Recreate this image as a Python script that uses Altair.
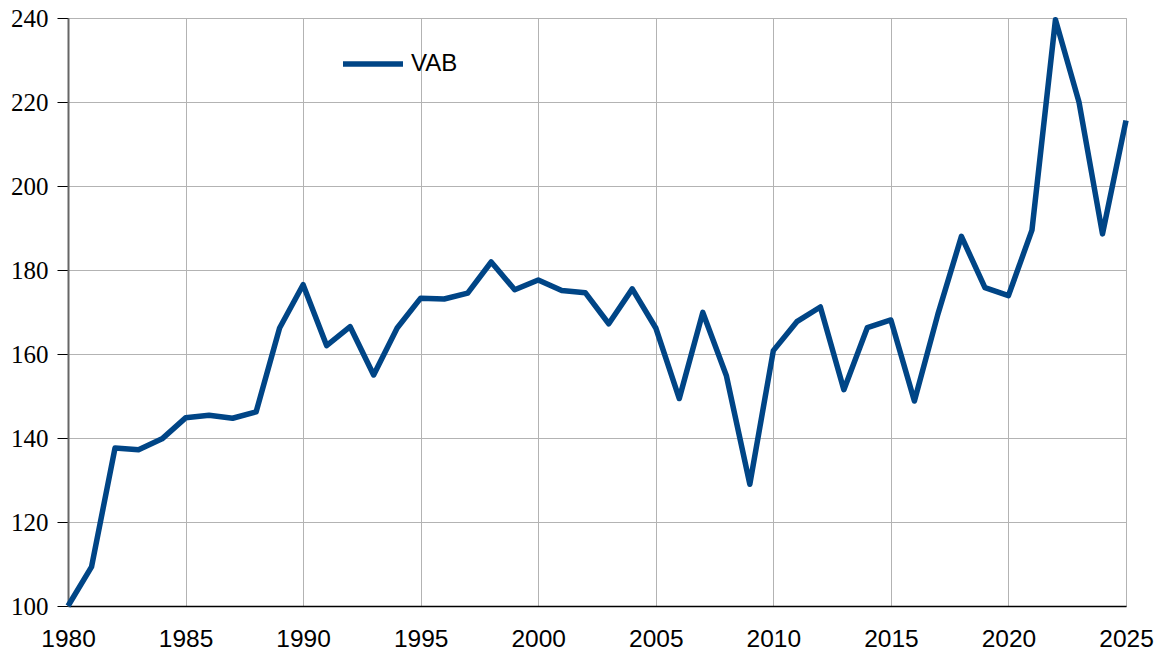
import altair as alt
import pandas as pd

years = list(range(1980, 2026))
vab = [100.0, 109.3, 137.6, 137.2, 139.8, 144.8, 145.4, 144.7, 146.2, 166.2,
       176.5, 162.0, 166.5, 155.0, 166.2, 173.3, 173.1, 174.5, 181.9, 175.3,
       177.6, 175.1, 174.6, 167.2, 175.5, 166.2, 149.4, 169.9, 154.9, 129.0,
       160.8, 167.7, 171.2, 151.5, 166.3, 168.1, 148.8, 169.5, 188.0, 175.8,
       173.9, 189.5, 239.6, 220.0, 188.6, 215.6]
series = ["VAB"] * len(years)

df = pd.DataFrame({"year": years, "value": vab, "series": series})

chart = alt.Chart(df).mark_line(strokeWidth=5.5, strokeJoin="round", strokeCap="butt").encode(
    x=alt.X("year:Q",
            scale=alt.Scale(domain=[1980, 2025], nice=False, zero=False),
            axis=alt.Axis(values=list(range(1980, 2026, 5)), format="d", title=None,
                          ticks=False, tickSize=0, labelPadding=21,
                          labelFont="Liberation Sans", labelFontSize=24.5, labelColor="#000",
                          domainColor="#000", domainWidth=1.5,
                          gridColor="#b3b3b3", gridWidth=1, labelFlush=False)),
    y=alt.Y("value:Q",
            scale=alt.Scale(domain=[100, 240], nice=False, zero=False),
            axis=alt.Axis(values=list(range(100, 241, 20)), title=None,
                          tickSize=11, tickColor="#000", labelPadding=9,
                          labelFont="Liberation Serif", labelFontSize=25, labelColor="#000",
                          domainColor="#666", domainWidth=2,
                          gridColor="#b3b3b3", gridWidth=1)),
    color=alt.Color("series:N", scale=alt.Scale(range=["#004586"]),
                    legend=alt.Legend(title=None, orient="none", legendX=272, legendY=13,
                                      symbolType="stroke", symbolSize=3600,
                                      symbolStrokeWidth=5.5, labelFont="Liberation Sans",
                                      labelFontSize=24, labelColor="#000", labelOffset=5,
                                      padding=0))
).properties(
    width=1058, height=588,
    autosize=alt.AutoSizeParams(type="none"),
    padding={"left": 60, "top": 10, "right": 28, "bottom": 48}
).configure_view(stroke="#b3b3b3", strokeWidth=1)

chart.save("out.html", embed_options={"renderer": "svg", "actions": False})
